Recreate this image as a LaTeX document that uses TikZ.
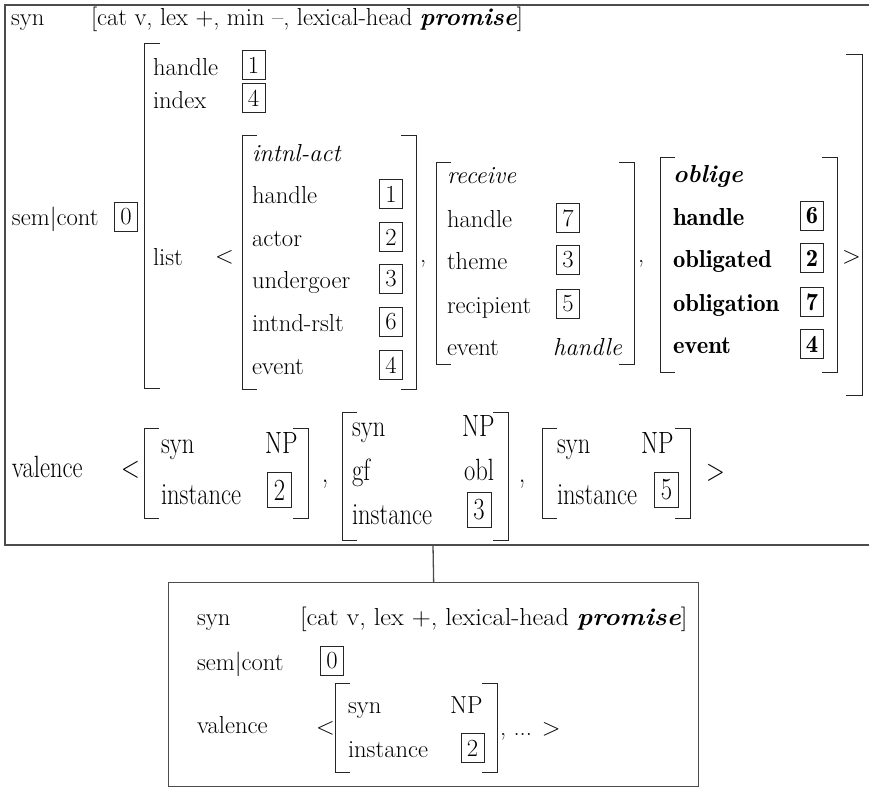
\documentclass[tikz,border=0pt]{standalone}
\usepackage{graphicx}
\begin{document}
\newcommand\tall[1]{\scalebox{1}[1.25]{#1}}
\newcommand\wide[1]{\scalebox{1.07}[1]{#1}}
\newcommand\sbf{\fontseries{b}\selectfont}
% AVM brackets: left x, right x, top y, bottom y
\newcommand\avm[4]{%
  \draw[brk] ({#1+15},#3) -- (#1,#3) -- (#1,#4) -- ({#1+15},#4);
  \draw[brk] ({#2-15},#3) -- (#2,#3) -- (#2,#4) -- ({#2-15},#4);}
\begin{tikzpicture}[x=1pt,y=-1pt,
  font=\fontsize{24.6}{29}\selectfont,
  txt/.style={anchor=base west,inner sep=0pt,outer sep=0pt},
  tag/.style={draw=black!85,line width=0.8pt,inner sep=0pt,minimum width=23pt,minimum height=29pt,anchor=center},
  talltag/.style={tag,minimum width=24pt,minimum height=35pt},
  brk/.style={line width=0.9pt,draw=black!85},
  frame/.style={line width=1.3pt,draw=black!70}]
\useasboundingbox (0,0) rectangle (869,787);

% upper sign
\draw[frame] (869,5) -- (5,5) -- (5,545) -- (869,545);
\coordinate (upper-foot) at (433,545);

\node[txt] (syn-a) at (11,25) {syn};
\node[txt] (syn-a-v) at (91,25) {[cat v, lex +, min –, lexical-head \textbf{\textit{promise}}]};

% sem|cont value
\draw[brk] (160,43) -- (144,43) -- (144,388) -- (160,388);
\draw[brk] (846,54) -- (862,54) -- (862,395) -- (846,395);
\node[txt] (hdl) at (153,75) {handle};
\node[tag] (hdl-t) at (253.5,65) {1};
\node[txt] (idx) at (153,108) {index};
\node[tag] (idx-t) at (253.5,98) {4};
\node[txt] (sc-a) at (12,225) {sem|cont};
\node[tag] (sc-a-t) at (126,216.5) {0};
\node[txt] (lst) at (153,265) {list};
\node[txt] (lst-open) at (215,263) {<};

% intnl-act
\avm{242}{416}{135}{389}
\node[txt] (ia-0) at (252,161) {\itshape intnl-act};
\node[txt] (ia-1) at (252,203) {handle};
\node[txt] (ia-2) at (252,246) {actor};
\node[txt] (ia-3) at (252,288) {undergoer};
\node[txt] (ia-4) at (252,331) {intnd-rslt};
\node[txt] (ia-5) at (252,374) {event};
\node[tag] (ia-1t) at (391,194) {1};
\node[tag] (ia-2t) at (391,237) {2};
\node[tag] (ia-3t) at (391,279) {3};
\node[tag] (ia-4t) at (391,322) {6};
\node[tag] (ia-5t) at (391,365) {4};
\node[txt] (cm-1) at (420,262) {,};

% receive
\avm{436}{634}{162}{364}
\node[txt] (rc-0) at (447,183) {\itshape receive};
\node[txt] (rc-1) at (447,227) {handle};
\node[txt] (rc-2) at (447,269) {theme};
\node[txt] (rc-3) at (447,313) {recipient};
\node[txt] (rc-4) at (447,355) {event};
\node[tag] (rc-1t) at (568,218) {7};
\node[tag] (rc-2t) at (568,260) {3};
\node[tag] (rc-3t) at (568,304) {5};
\node[txt] (rc-4v) at (553,355) {\itshape handle};
\node[txt] (cm-2) at (638,262) {,};

% oblige
\avm{660}{837}{157}{372}
\node[txt] (ob-0) at (673,182) {\bfseries\itshape oblige};
\node[txt] (ob-1) at (673,225) {\sbf handle};
\node[txt] (ob-2) at (673,267) {\sbf obligated};
\node[txt] (ob-3) at (673,311) {\sbf obligation};
\node[txt] (ob-4) at (673,353) {\sbf event};
\node[tag] (ob-1t) at (812,216) {\sbf 6};
\node[tag] (ob-2t) at (812,258) {\sbf 2};
\node[tag] (ob-3t) at (812,302) {\sbf 7};
\node[tag] (ob-4t) at (812,344) {\sbf 4};
\node[txt] (lst-close) at (842,263) {>};

% valence list
\node[txt] (val-a) at (12,477) {\tall{valence}};
\node[txt] (val-open) at (121,477) {\tall{<}};
\avm{144}{308}{428}{518}
\node[txt] (v1-s) at (161,453) {\tall{syn}};
\node[txt] (v1-sv) at (265,453) {\tall{NP}};
\node[txt] (v1-i) at (161,504) {\tall{instance}};
\node[talltag] (v1-it) at (279.5,490) {\tall{2}};
\node[txt] (cm-3) at (322,482) {\tall{,}};
\avm{342}{508}{412}{540}
\node[txt] (v2-s) at (352,436) {\tall{syn}};
\node[txt] (v2-sv) at (462,436) {\tall{NP}};
\node[txt] (v2-g) at (352,480) {\tall{gf}};
\node[txt] (v2-gv) at (464,480) {\tall{obl}};
\node[txt] (v2-i) at (352,524) {\tall{instance}};
\node[talltag] (v2-it) at (479,510) {\tall{3}};
\node[txt] (cm-4) at (519,482) {\tall{,}};
\avm{542}{690}{428}{518}
\node[txt] (v3-s) at (557,453) {\tall{syn}};
\node[txt] (v3-sv) at (641,453) {\tall{NP}};
\node[txt] (v3-i) at (557,504) {\tall{instance}};
\node[talltag] (v3-it) at (666.5,490) {\tall{5}};
\node[txt] (val-close) at (706,480) {\tall{>}};

% lower sign
\node[frame,draw,inner sep=0pt,minimum width=530pt,minimum height=204pt,anchor=north west] (lowbox) at (168,582) {};
\draw[frame] (upper-foot) -- (lowbox.north);

\node[txt] (syn-b) at (197,625) {syn};
\node[txt] (syn-b-v) at (300,625) {\wide{[cat v, lex +, lexical-head \textbf{\textit{promise}}]}};
\node[txt] (sc-b) at (197,670) {sem|cont};
\node[tag] (sc-b-t) at (332,661) {0};
\node[txt] (val-b) at (197,733) {valence};
\node[txt] (val-b-open) at (316,734) {<};
\avm{335}{497}{683}{772}
\node[txt] (w-s) at (348,713) {syn};
\node[txt] (w-sv) at (450,713) {NP};
\node[txt] (w-i) at (348,757) {instance};
\node[tag] (w-it) at (472.5,748) {2};
\node[txt] (val-b-rest) at (500,735) {, ... >};
\end{tikzpicture}
\end{document}
